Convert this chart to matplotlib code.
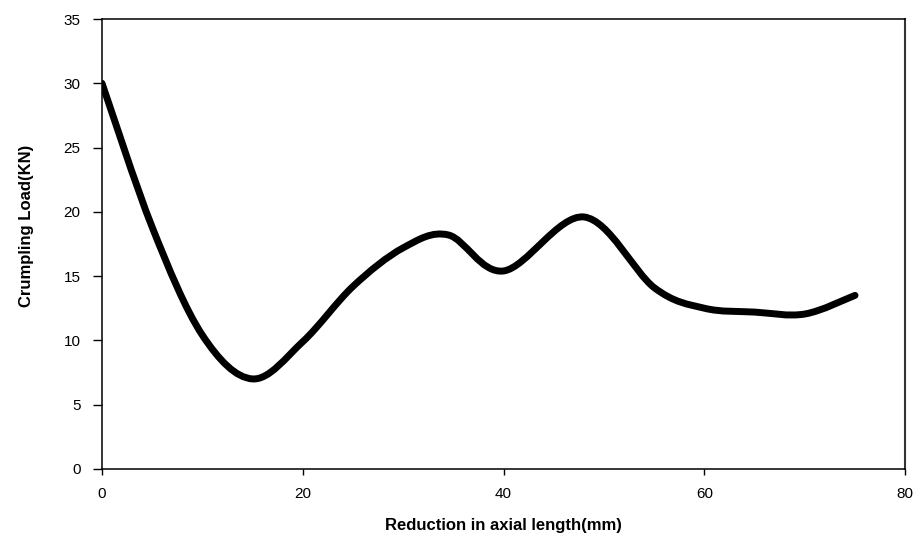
import matplotlib
matplotlib.use("Agg")
import matplotlib.pyplot as plt
import numpy as np
from matplotlib.path import Path
from matplotlib.patches import PathPatch

# values
reduction_mm = [0, 5, 10, 15, 20, 25, 30, 34.5, 40, 48, 55, 60, 65, 70, 75]
load_kn = [30, 18.8, 10.4, 7.0, 9.9, 14.2, 17.2, 18.2, 15.4, 19.6, 14.1, 12.5, 12.2, 12.05, 13.5]

x_ticks = [0, 20, 40, 60, 80]
y_ticks = [0, 5, 10, 15, 20, 25, 30, 35]

plt.rcParams["font.family"] = ["Liberation Sans", "DejaVu Sans"]

fig = plt.figure(figsize=(9.19, 5.51), dpi=100)
ax = fig.add_axes([0.111, 0.149, 0.874, 0.8165])

# smoothed line like a spreadsheet "smoothed" series (cubic bezier through the points)
pts = np.column_stack([reduction_mm, load_kn]).astype(float)
ext = np.vstack([pts[0], pts, pts[-1]])
verts = [pts[0]]
codes = [Path.MOVETO]
for i in range(len(pts) - 1):
    p0, p1, p2, p3 = ext[i], ext[i + 1], ext[i + 2], ext[i + 3]
    verts += [p1 + (p2 - p0) / 6.0, p2 - (p3 - p1) / 6.0, p2]
    codes += [Path.CURVE4] * 3
patch = PathPatch(Path(verts, codes), facecolor="none", edgecolor="black",
                  lw=5, capstyle="round", joinstyle="round")
ax.add_patch(patch)

ax.set_xlim(0, 80)
ax.set_ylim(0, 35)
ax.set_xticks(x_ticks)
ax.set_yticks(y_ticks)
ax.tick_params(axis="y", direction="out", length=6.5, width=1, pad=9, labelsize=11)
ax.tick_params(axis="x", direction="out", length=4.3, width=1, pad=9, labelsize=11)

for s in ax.spines.values():
    s.set_linewidth(1.1)
    s.set_color("black")
ax.spines["right"].set_linewidth(1.5)
ax.spines["right"].set_color("#333333")

ax.set_xlabel("Reduction in axial length(mm)", fontsize=12, fontweight="bold", labelpad=12)
ax.set_ylabel("Crumpling Load(KN)", fontsize=12, fontweight="bold", labelpad=14)
ax.yaxis.set_label_coords(-0.085, 0.54)

fig.savefig("out.png", dpi=100)
plt.close(fig)
